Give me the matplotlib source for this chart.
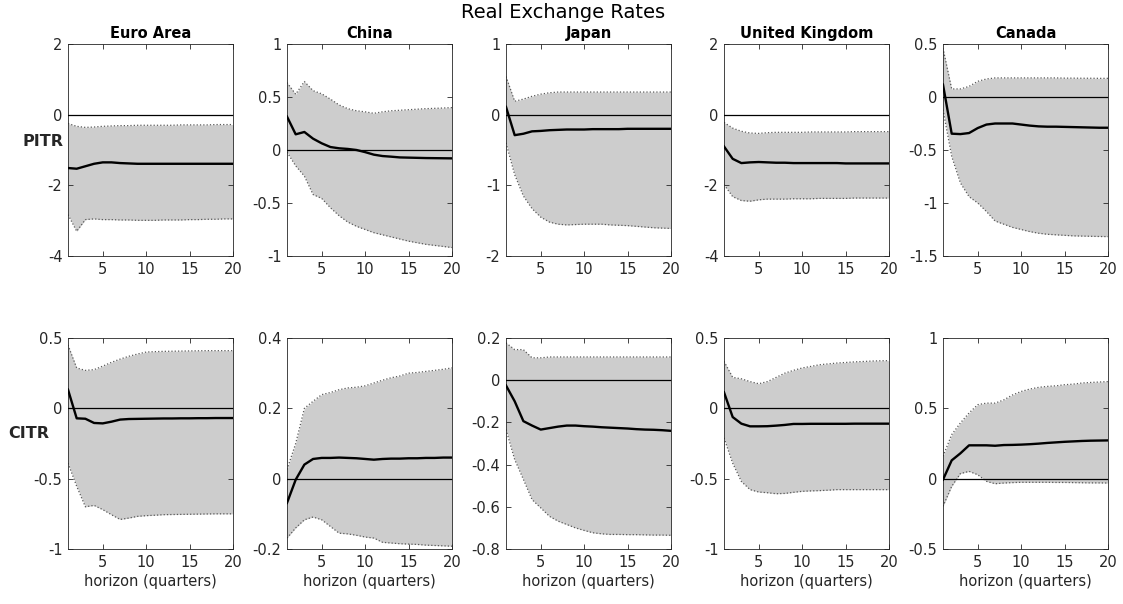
import matplotlib
matplotlib.use('Agg')
import matplotlib.pyplot as plt
import numpy as np
from matplotlib.ticker import FormatStrFormatter

plt.rcParams['font.family'] = ['DejaVu Sans']
plt.rcParams['axes.unicode_minus'] = False

# 横轴: 冲击后的季度数
horizon = list(range(1, 21))

countries = ['Euro Area', 'China', 'Japan', 'United Kingdom', 'Canada']
rows = ['PITR', 'CITR']

# ---- PITR 行 ----
ea_pitr_mid = [-1.51, -1.53, -1.46, -1.39, -1.35, -1.35, -1.37, -1.38, -1.39, -1.39,
               -1.39, -1.39, -1.39, -1.39, -1.39, -1.39, -1.39, -1.39, -1.39, -1.39]
ea_pitr_hi = [-0.25, -0.33, -0.36, -0.35, -0.33, -0.32, -0.31, -0.31, -0.30, -0.30,
              -0.30, -0.30, -0.30, -0.29, -0.29, -0.29, -0.29, -0.28, -0.28, -0.28]
ea_pitr_lo = [-2.83, -3.30, -2.97, -2.95, -2.97, -2.97, -2.98, -2.98, -2.99, -2.99,
              -2.99, -2.98, -2.98, -2.98, -2.97, -2.97, -2.96, -2.96, -2.95, -2.95]

cn_pitr_mid = [0.315, 0.148, 0.17, 0.107, 0.063, 0.028, 0.016, 0.01, 0.0, -0.02,
               -0.044, -0.057, -0.063, -0.07, -0.072, -0.074, -0.076, -0.077, -0.078, -0.079]
cn_pitr_hi = [0.636, 0.526, 0.646, 0.56, 0.53, 0.48, 0.425, 0.39, 0.37, 0.36,
              0.346, 0.36, 0.37, 0.375, 0.38, 0.385, 0.39, 0.393, 0.396, 0.40]
cn_pitr_lo = [-0.02, -0.15, -0.246, -0.42, -0.457, -0.545, -0.62, -0.68, -0.72, -0.75,
              -0.78, -0.80, -0.82, -0.84, -0.86, -0.875, -0.89, -0.90, -0.91, -0.92]

jp_pitr_mid = [0.11, -0.29, -0.27, -0.236, -0.23, -0.22, -0.215, -0.21, -0.21, -0.21,
               -0.205, -0.205, -0.205, -0.205, -0.20, -0.20, -0.20, -0.20, -0.20, -0.20]
jp_pitr_hi = [0.54, 0.19, 0.22, 0.26, 0.29, 0.31, 0.32, 0.32, 0.32, 0.32,
              0.32, 0.32, 0.32, 0.32, 0.32, 0.32, 0.32, 0.32, 0.32, 0.32]
jp_pitr_lo = [-0.4, -0.85, -1.15, -1.33, -1.45, -1.52, -1.55, -1.56, -1.555, -1.55,
              -1.55, -1.55, -1.56, -1.565, -1.57, -1.58, -1.59, -1.60, -1.605, -1.61]

uk_pitr_mid = [-0.90, -1.25, -1.37, -1.35, -1.34, -1.35, -1.36, -1.36, -1.37, -1.37,
               -1.37, -1.37, -1.37, -1.37, -1.38, -1.38, -1.38, -1.38, -1.38, -1.38]
uk_pitr_hi = [-0.22, -0.38, -0.47, -0.52, -0.53, -0.51, -0.50, -0.50, -0.50, -0.50,
              -0.49, -0.49, -0.49, -0.49, -0.49, -0.48, -0.48, -0.48, -0.48, -0.48]
uk_pitr_lo = [-1.98, -2.32, -2.43, -2.45, -2.41, -2.39, -2.39, -2.39, -2.38, -2.38,
              -2.38, -2.37, -2.37, -2.37, -2.37, -2.36, -2.36, -2.36, -2.36, -2.36]

ca_pitr_mid = [0.117, -0.346, -0.35, -0.34, -0.293, -0.26, -0.25, -0.25, -0.25, -0.26,
               -0.27, -0.277, -0.28, -0.28, -0.282, -0.284, -0.286, -0.288, -0.29, -0.29]
ca_pitr_hi = [0.46, 0.076, 0.076, 0.10, 0.148, 0.17, 0.18, 0.18, 0.18, 0.18,
              0.18, 0.18, 0.18, 0.18, 0.178, 0.178, 0.177, 0.177, 0.176, 0.176]
ca_pitr_lo = [-0.12, -0.56, -0.81, -0.94, -1.0, -1.08, -1.17, -1.2, -1.23, -1.25,
              -1.27, -1.285, -1.295, -1.30, -1.305, -1.31, -1.312, -1.314, -1.316, -1.317]

# ---- CITR 行 ----
ea_citr_mid = [0.133, -0.071, -0.074, -0.104, -0.107, -0.095, -0.08, -0.076, -0.075, -0.074,
               -0.073, -0.072, -0.072, -0.071, -0.071, -0.070, -0.070, -0.069, -0.069, -0.069]
ea_citr_hi = [0.45, 0.287, 0.27, 0.275, 0.30, 0.327, 0.35, 0.37, 0.386, 0.40,
              0.403, 0.405, 0.406, 0.407, 0.408, 0.409, 0.41, 0.41, 0.41, 0.41]
ea_citr_lo = [-0.39, -0.554, -0.70, -0.69, -0.72, -0.756, -0.79, -0.78, -0.768, -0.763,
              -0.76, -0.756, -0.755, -0.754, -0.753, -0.752, -0.751, -0.75, -0.75, -0.75]

cn_citr_mid = [-0.069, -0.003, 0.04, 0.056, 0.059, 0.059, 0.06, 0.059, 0.058, 0.056,
               0.054, 0.056, 0.057, 0.057, 0.058, 0.058, 0.059, 0.059, 0.06, 0.06]
cn_citr_hi = [0.026, 0.10, 0.20, 0.22, 0.239, 0.245, 0.253, 0.258, 0.26, 0.264,
              0.272, 0.28, 0.287, 0.292, 0.30, 0.302, 0.305, 0.308, 0.311, 0.315]
cn_citr_lo = [-0.169, -0.14, -0.117, -0.109, -0.117, -0.136, -0.155, -0.157, -0.161, -0.166,
              -0.169, -0.181, -0.183, -0.185, -0.186, -0.187, -0.189, -0.19, -0.191, -0.192]

jp_citr_mid = [-0.025, -0.10, -0.194, -0.215, -0.234, -0.227, -0.22, -0.215, -0.215, -0.218,
               -0.22, -0.223, -0.225, -0.227, -0.229, -0.232, -0.234, -0.235, -0.237, -0.24]
jp_citr_hi = [0.177, 0.145, 0.145, 0.106, 0.106, 0.11, 0.11, 0.11, 0.11, 0.11,
              0.11, 0.11, 0.11, 0.11, 0.11, 0.11, 0.11, 0.11, 0.11, 0.11]
jp_citr_lo = [-0.234, -0.376, -0.47, -0.566, -0.605, -0.645, -0.668, -0.684, -0.70, -0.712,
              -0.723, -0.728, -0.731, -0.731, -0.732, -0.732, -0.733, -0.734, -0.734, -0.735]

uk_citr_mid = [0.114, -0.062, -0.109, -0.128, -0.128, -0.127, -0.123, -0.118, -0.111, -0.111,
               -0.110, -0.110, -0.110, -0.110, -0.110, -0.109, -0.109, -0.109, -0.109, -0.109]
uk_citr_hi = [0.334, 0.22, 0.21, 0.19, 0.175, 0.19, 0.22, 0.25, 0.27, 0.287,
              0.298, 0.31, 0.316, 0.322, 0.326, 0.33, 0.333, 0.336, 0.338, 0.339]
uk_citr_lo = [-0.21, -0.39, -0.52, -0.578, -0.595, -0.60, -0.607, -0.605, -0.597, -0.59,
              -0.587, -0.585, -0.582, -0.578, -0.578, -0.578, -0.578, -0.578, -0.578, -0.578]

ca_citr_mid = [-0.007, 0.13, 0.18, 0.237, 0.237, 0.237, 0.234, 0.239, 0.24, 0.242,
               0.245, 0.249, 0.254, 0.258, 0.262, 0.265, 0.268, 0.27, 0.271, 0.272]
ca_citr_hi = [0.159, 0.313, 0.396, 0.467, 0.526, 0.537, 0.537, 0.56, 0.595, 0.62,
              0.637, 0.649, 0.656, 0.66, 0.668, 0.672, 0.68, 0.684, 0.687, 0.69]
ca_citr_lo = [-0.197, -0.055, 0.036, 0.052, 0.028, -0.019, -0.036, -0.031, -0.028, -0.026,
              -0.026, -0.026, -0.026, -0.027, -0.027, -0.028, -0.029, -0.03, -0.03, -0.031]

# 每个面板的 (中值, 上界, 下界)
panels = [
    [(ea_pitr_mid, ea_pitr_hi, ea_pitr_lo), (cn_pitr_mid, cn_pitr_hi, cn_pitr_lo),
     (jp_pitr_mid, jp_pitr_hi, jp_pitr_lo), (uk_pitr_mid, uk_pitr_hi, uk_pitr_lo),
     (ca_pitr_mid, ca_pitr_hi, ca_pitr_lo)],
    [(ea_citr_mid, ea_citr_hi, ea_citr_lo), (cn_citr_mid, cn_citr_hi, cn_citr_lo),
     (jp_citr_mid, jp_citr_hi, jp_citr_lo), (uk_citr_mid, uk_citr_hi, uk_citr_lo),
     (ca_citr_mid, ca_citr_hi, ca_citr_lo)],
]

ylims = [
    [(-4, 2), (-1, 1), (-2, 1), (-4, 2), (-1.5, 0.5)],
    [(-1, 0.5), (-0.2, 0.4), (-0.8, 0.2), (-1, 0.5), (-0.5, 1)],
]
yticks = [
    [[-4, -2, 0, 2], [-1, -0.5, 0, 0.5, 1], [-2, -1, 0, 1], [-4, -2, 0, 2],
     [-1.5, -1, -0.5, 0, 0.5]],
    [[-1, -0.5, 0, 0.5], [-0.2, 0, 0.2, 0.4], [-0.8, -0.6, -0.4, -0.2, 0, 0.2],
     [-1, -0.5, 0, 0.5], [-0.5, 0, 0.5, 1]],
]
xticks = [5, 10, 15, 20]

W, H = 1123, 604
fig = plt.figure(figsize=(W / 100, H / 100), dpi=100)

lefts = [68, 287, 506, 724, 943]   # 像素
ax_w = 165
tops = [44, 338]
ax_h = [212, 211]

for r in range(2):
    for c in range(5):
        x0 = lefts[c] / W
        y0 = 1 - (tops[r] + ax_h[r]) / H
        ax = fig.add_axes([x0, y0, ax_w / W, ax_h[r] / H])
        mid, hi, lo = panels[r][c]
        ax.fill_between(horizon, lo, hi, color='#cdcdcd', linewidth=0, zorder=1)
        ax.plot(horizon, hi, ':', color='0.35', linewidth=0.9, zorder=2)
        ax.plot(horizon, lo, ':', color='0.35', linewidth=0.9, zorder=2)
        ax.axhline(0, color='black', linewidth=0.9, zorder=3)
        ax.plot(horizon, mid, color='black', linewidth=1.7, zorder=4)
        ax.set_xlim(1, 20)
        ax.set_ylim(*ylims[r][c])
        ax.set_xticks(xticks)
        ax.set_yticks(yticks[r][c])
        ax.yaxis.set_major_formatter(FormatStrFormatter('%g'))
        ax.tick_params(direction='in', top=True, right=True, length=3.5,
                       width=0.6, colors='0.15', labelsize=10.5, pad=4)
        for s in ax.spines.values():
            s.set_color('0.15')
            s.set_linewidth(0.6)
        if r == 0:
            ax.set_title(countries[c], fontsize=10.5, fontweight='bold', pad=4)
        else:
            ax.set_xlabel('horizon (quarters)', fontsize=10.5, labelpad=3, color='0.15')

fig.text(43 / W, 1 - 141 / H, rows[0], fontsize=11.5, fontweight='bold',
         ha='center', va='center', color='0.15')
fig.text(29 / W, 1 - 433 / H, rows[1], fontsize=11.5, fontweight='bold',
         ha='center', va='center', color='0.15')
fig.text(563 / W, 1 - 13 / H, 'Real Exchange Rates', fontsize=14,
         ha='center', va='center')

fig.savefig('out.png', dpi=100, facecolor='white')
